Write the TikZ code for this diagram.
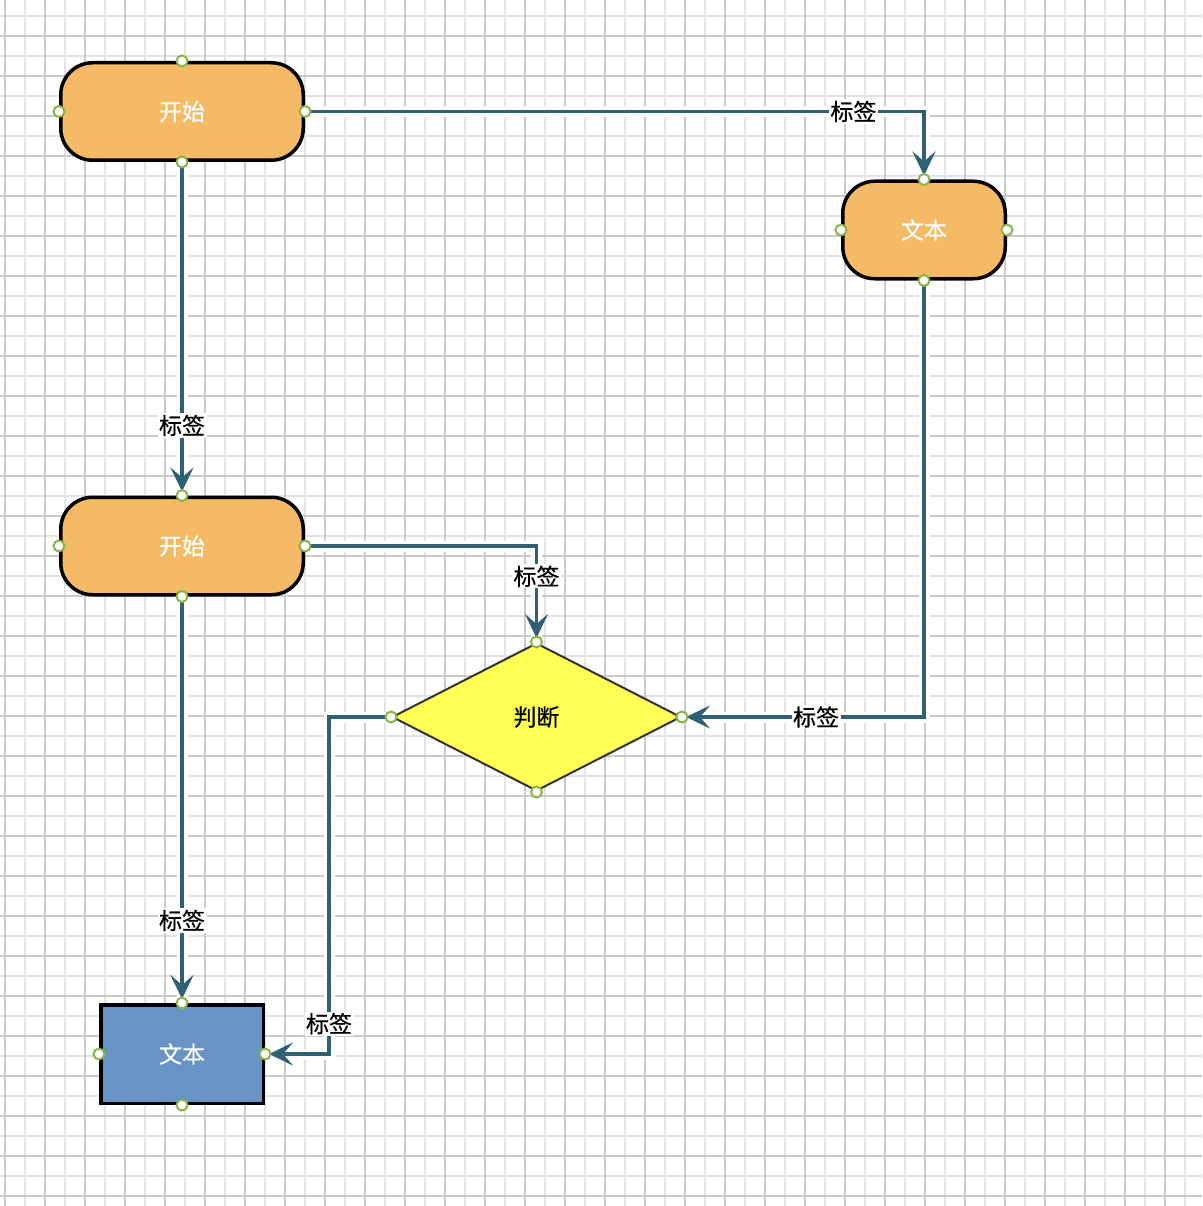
\documentclass[tikz,border=0pt]{standalone}
\usepackage{fontspec}
\newfontfamily\cjk[FakeBold=0.6]{Noto Sans CJK SC}
\usetikzlibrary{arrows.meta,shapes.geometric}
\definecolor{orangef}{HTML}{F5BA66}
\definecolor{bluef}{HTML}{6794C5}
\definecolor{yellowf}{HTML}{FFFF55}
\definecolor{connc}{HTML}{2F6073}
\definecolor{cpc}{HTML}{8AB34A}
\definecolor{gridd}{HTML}{CACACF}
\definecolor{gridl}{HTML}{E2E2E8}
\begin{document}
\begin{tikzpicture}[x=1pt,y=-1pt,
  txt/.style={font=\cjk\fontsize{23pt}{27pt}\selectfont},
  term/.style={txt,draw=black,line width=3.5pt,fill=orangef,rounded corners=32pt,
    minimum width=242.5pt,minimum height=97.5pt,text=white,inner sep=0pt},
  termsmall/.style={term,minimum width=162.5pt},
  boxnode/.style={txt,draw=black,line width=3.5pt,fill=bluef,
    minimum width=162.5pt,minimum height=98.5pt,text=white,inner sep=0pt},
  decide/.style={txt,diamond,draw=black!80,line width=2pt,fill=yellowf,
    minimum width=289pt,minimum height=148pt,inner sep=0pt,text=black},
  conn/.style={draw=connc,line width=3.8pt,
    preaction={draw=white,line width=11pt,-},
    -{Stealth[length=24pt,width=23pt,inset=10pt]},shorten >=4pt},
  lbl/.style={txt,fill=white,inner sep=1.5pt,text=black},
  cp/.style={draw=cpc,fill=white,line width=2pt},
  gridlight/.style={draw=gridl,line width=2pt},
  griddark/.style={draw=gridd,line width=2pt}]
\useasboundingbox (0,0) rectangle (1202,1206);
\fill[white] (0,0) rectangle (1202,1206);
% grid
\foreach \x in {25,65,...,1185} \draw[gridlight] (\x,0) -- (\x,1206);
\foreach \y in {16,56,...,1176} \draw[gridlight] (0,\y) -- (1202,\y);
\foreach \x in {5,45,...,1165} \draw[griddark] (\x,0) -- (\x,1206);
\foreach \y in {36,76,...,1196} \draw[griddark] (0,\y) -- (1202,\y);
% nodes
\node[term] (s1) at (182,111.5) {开始};
\node[term] (s2) at (182,546) {开始};
\node[termsmall] (t1) at (924,230) {文本};
\node[decide] (d) at (536.5,717) {判断};
\node[boxnode] (r) at (182,1054) {文本};
% connectors
\draw[conn] (s1.east) -| node[lbl,pos=0.443]{标签} (t1.north);
\draw[conn] (s1.south) -- node[lbl,pos=0.79]{标签} (s2.north);
\draw[conn] (s2.east) -| node[lbl,pos=0.658]{标签} (d.north);
\draw[conn] (t1.south) |- node[lbl,pos=0.723]{标签} (d.east);
\draw[conn] (s2.south) -- node[lbl,pos=0.797]{标签} (r.north);
\coordinate (k6) at (329,717);
\draw[conn] (d.west) -- (k6) |- node[lbl,pos=0.455]{标签} (r.east);
% connection points
\foreach \n in {s1,s2,t1,d,r}
  \foreach \a in {north,south,east,west}
    \draw[cp] (\n.\a) circle (5.5pt);
\end{tikzpicture}
\end{document}
